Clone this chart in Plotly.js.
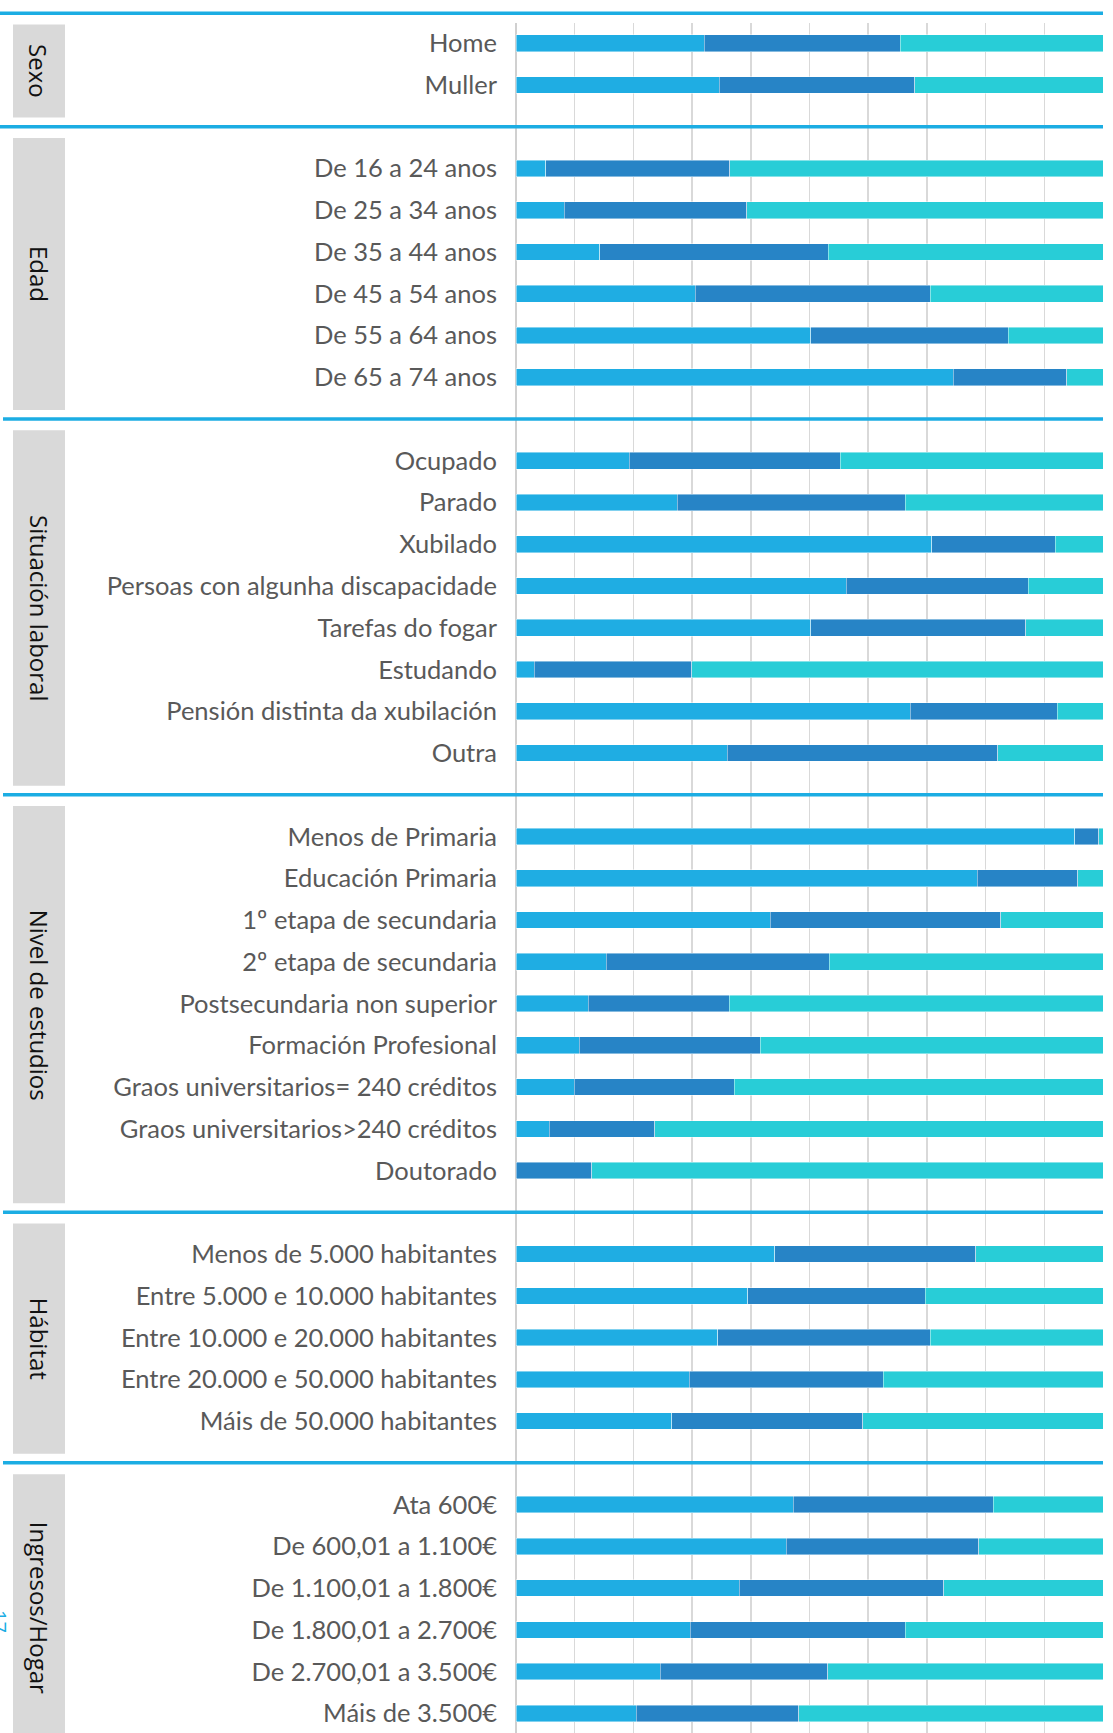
<!DOCTYPE html>
<html>
<head>
<meta charset="utf-8">
<script src="https://cdn.plot.ly/plotly-3.0.1.min.js"></script>
<style>
  html, body { margin: 0; padding: 0; background: #ffffff; }
  #chart { width: 1113px; height: 1733px; }
</style>
</head>
<body>
<div id="chart"></div>
<script>
// ---------------- DATA ----------------
const groupNames = ['Sexo', 'Edad', 'Situación laboral', 'Nivel de estudios', 'Hábitat', 'Ingresos/Hogar'];

const sexoCats = ['Home', 'Muller'];
const sexoA = [32.1, 34.6];
const sexoB = [33.4, 33.3];
const sexoC = [34.5, 32.1];

const edadCats = ['De 16 a 24 anos', 'De 25 a 34 anos', 'De 35 a 44 anos', 'De 45 a 54 anos', 'De 55 a 64 anos', 'De 65 a 74 anos'];
const edadA = [5.1, 8.2, 14.3, 30.5, 50.2, 74.5];
const edadB = [31.3, 31.1, 38.9, 40.1, 33.7, 19.3];
const edadC = [63.6, 60.7, 46.8, 29.4, 16.1, 6.2];

const laboralCats = ['Ocupado', 'Parado', 'Xubilado', 'Persoas con algunha discapacidade', 'Tarefas do fogar', 'Estudando', 'Pensión distinta da xubilación', 'Outra'];
const laboralA = [19.3, 27.5, 70.8, 56.3, 50.2, 3.1, 67.2, 36.0];
const laboralB = [35.9, 38.8, 21.1, 31.0, 36.6, 26.8, 25.0, 46.1];
const laboralC = [44.8, 33.7, 8.1, 12.7, 13.2, 70.1, 7.8, 17.9];

const estudosCats = ['Menos de Primaria', 'Educación Primaria', '1º etapa de secundaria', '2º etapa de secundaria', 'Postsecundaria non superior', 'Formación Profesional', 'Graos universitarios= 240 créditos', 'Graos universitarios>240 créditos', 'Doutorado'];
const estudosA = [95.2, 78.6, 43.3, 15.4, 12.3, 10.8, 9.9, 5.7, 0];
const estudosB = [4.1, 17.1, 39.3, 38.0, 24.0, 30.8, 27.3, 17.9, 12.9];
const estudosC = [0.7, 4.3, 17.4, 46.6, 63.7, 58.4, 62.8, 76.4, 87.1];

const habitatCats = ['Menos de 5.000 habitantes', 'Entre 5.000 e 10.000 habitantes', 'Entre 10.000 e 20.000 habitantes', 'Entre 20.000 e 50.000 habitantes', 'Máis de 50.000 habitantes'];
const habitatA = [44.1, 39.5, 34.4, 29.5, 26.5];
const habitatB = [34.2, 30.2, 36.2, 33.1, 32.6];
const habitatC = [21.7, 30.3, 29.4, 37.4, 40.9];

const ingresosCats = ['Ata 600€', 'De 600,01 a 1.100€', 'De 1.100,01 a 1.800€', 'De 1.800,01 a 2.700€', 'De 2.700,01 a 3.500€', 'Máis de 3.500€'];
const ingresosA = [47.2, 46.0, 38.0, 29.7, 24.6, 20.5];
const ingresosB = [34.1, 32.8, 34.9, 36.6, 28.5, 27.7];
const ingresosC = [18.7, 21.2, 27.1, 33.7, 46.9, 51.8];

const pageNumber = '17';

// ---------------- BUILD ----------------
const groups = [
  {name: groupNames[0], cats: sexoCats, a: sexoA, b: sexoB, c: sexoC},
  {name: groupNames[1], cats: edadCats, a: edadA, b: edadB, c: edadC},
  {name: groupNames[2], cats: laboralCats, a: laboralA, b: laboralB, c: laboralC},
  {name: groupNames[3], cats: estudosCats, a: estudosA, b: estudosB, c: estudosC},
  {name: groupNames[4], cats: habitatCats, a: habitatA, b: habitatB, c: habitatC},
  {name: groupNames[5], cats: ingresosCats, a: ingresosA, b: ingresosB, c: ingresosC}
];

const W = 1113, H = 1733;
const M = {l: 516, r: 10, t: 23, b: 0};
const plotW = W - M.l - M.r;
const yTop = -0.486, yBot = 40.47;   // reversed axis range (slot units)

const ys = [], labels = [], A = [], B = [], C = [];
const sepSlots = [];
let slot = 0;
groups.forEach((g, i) => {
  if (i > 0) { sepSlots.push(slot); slot++; }
  g.cats.forEach((c, j) => {
    ys.push(slot); labels.push(c);
    A.push(g.a[j]); B.push(g.b[j]); C.push(g.c[j]);
    slot++;
  });
});

const pxX = px => (px - M.l) / plotW;               // pixel x -> paper x
const slotY = s => (yBot - s) / (yBot - yTop);      // slot -> paper y

const colA = '#1FADE3', colB = '#2784C6', colC = '#28CDD7';
const lineBlue = '#1CADE3';
const barW = 0.4;
const edge = {color: 'rgba(255,255,255,0.55)', width: 0.8};

const traces = [
  {type: 'bar', orientation: 'h', y: ys, x: A, width: barW, marker: {color: colA, line: edge}, name: 'A', hoverinfo: 'x'},
  {type: 'bar', orientation: 'h', y: ys, x: B, width: barW, marker: {color: colB, line: edge}, name: 'B', hoverinfo: 'x'},
  {type: 'bar', orientation: 'h', y: ys, x: C, width: barW, marker: {color: colC, line: edge}, name: 'C', hoverinfo: 'x'}
];

const shapes = [];
const annotations = [];
const topLine = -0.72;
const allSeps = [topLine].concat(sepSlots);
allSeps.forEach((s, i) => {
  shapes.push({type: 'line', xref: 'paper', yref: 'paper',
    x0: pxX(i <= 1 ? 0 : 3), x1: 1, y0: slotY(s), y1: slotY(s),
    line: {color: lineBlue, width: 3.5}, layer: 'above'});
});
groups.forEach((g, i) => {
  const top = allSeps[i] + 0.27;
  const bot = (i < groups.length - 1 ? allSeps[i + 1] : 41.3) - 0.22;
  shapes.push({type: 'rect', xref: 'paper', yref: 'paper',
    x0: pxX(13), x1: pxX(65), y0: slotY(bot), y1: slotY(top),
    fillcolor: '#D9D9D9', line: {width: 0}, layer: 'below'});
  const mid = (top + Math.min(bot, yBot + 0.2)) / 2;
  annotations.push({xref: 'paper', yref: 'paper', x: pxX(39), y: slotY(mid),
    text: g.name, showarrow: false, textangle: 90, xanchor: 'center', yanchor: 'middle',
    font: {family: 'Open Sans, sans-serif', size: 24, color: '#111111'}});
});
annotations.push({xref: 'paper', yref: 'paper', x: pxX(0), y: slotY(37.79),
  text: pageNumber, showarrow: false, textangle: 90, xanchor: 'center', yanchor: 'middle',
  font: {family: 'Open Sans, sans-serif', size: 20, color: lineBlue}});

const layout = {
  width: W, height: H,
  margin: M,
  paper_bgcolor: '#ffffff', plot_bgcolor: '#ffffff',
  barmode: 'stack',
  showlegend: false,
  bargap: 0,
  xaxis: {range: [0, 100], dtick: 10, tick0: 0, showgrid: true, gridcolor: '#D9D9D9', gridwidth: 1.5,
    zeroline: true, zerolinecolor: '#D0D0D0', zerolinewidth: 2, showticklabels: false, ticks: '',
    fixedrange: true, showline: false},
  yaxis: {range: [yBot, yTop], autorange: false, tickmode: 'array', tickvals: ys, ticktext: labels,
    ticks: '', showgrid: false, zeroline: false, showline: false, ticklabelstandoff: 18,
    tickfont: {family: 'Lato, sans-serif', size: 25.5, color: '#595959'}, fixedrange: true},
  shapes: shapes,
  annotations: annotations
};

Plotly.newPlot('chart', traces, layout, {displayModeBar: false, staticPlot: true});
</script>
</body>
</html>
